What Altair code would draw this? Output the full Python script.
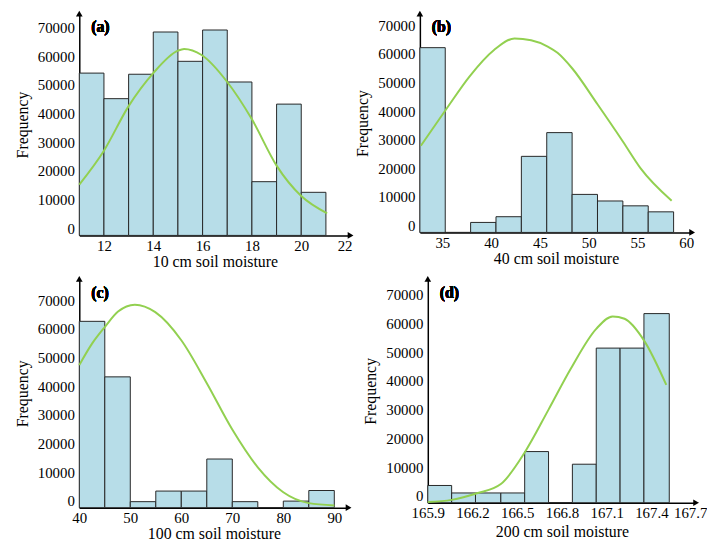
import altair as alt
import pandas as pd

# ---------------- data ----------------
# (a) 10 cm
a_start = [11, 12, 13, 14, 15, 16, 17, 18, 19, 20]
a_end = [12, 13, 14, 15, 16, 17, 18, 19, 20, 21]
a_count = [56500, 47600, 56100, 70800, 60600, 71500, 53400, 18700, 45700, 15000]
a_cx = [11, 12, 13, 14, 15, 15.25, 15.96, 17, 18, 19, 20, 21.05]
a_cy = [17700, 29500, 45000, 56500, 64300, 64900, 62800, 53400, 40400, 24300, 13700, 7700]

# (b) 40 cm
b_start = [32.7, 35.3, 37.9, 40.5, 43.1, 45.7, 48.3, 50.9, 53.5, 56.1]
b_end = [35.3, 37.9, 40.5, 43.1, 45.7, 48.3, 50.9, 53.5, 56.1, 58.7]
b_count = [64600, 0, 3500, 5500, 26600, 34900, 13300, 11000, 9300, 7200]
b_cx = [32.8, 35.5, 37.8, 40.3, 42.4, 44.1, 45.8, 46.8, 48.3, 50.9, 53.5, 55.3, 58.5]
b_cy = [30300, 43600, 54600, 63800, 67800, 67200, 65000, 62800, 57400, 44800, 31800, 22500, 11100]

# (c) 100 cm
c_start = [40, 45, 50, 55, 60, 65, 70, 75, 80, 85]
c_end = [45, 50, 55, 60, 65, 70, 75, 80, 85, 90]
c_count = [65100, 45700, 2100, 5800, 5800, 17000, 2100, 0, 2300, 6000]
c_cx = [40, 42.5, 45, 47.6, 50.9, 54.9, 60, 65, 70, 75, 80, 85, 90]
c_cy = [49800, 57300, 63100, 68500, 70900, 68300, 58500, 43500, 27300, 14100, 5400, 1600, 800]

# (d) 200 cm
d_start = [165.9, 166.06, 166.22, 166.39, 166.55, 166.71, 166.87, 167.03, 167.19, 167.35]
d_end = [166.06, 166.22, 166.39, 166.55, 166.71, 166.87, 167.03, 167.19, 167.35, 167.52]
d_count = [6000, 3400, 3400, 3400, 17800, 0, 13400, 53800, 53800, 65800]
d_cx = [165.9, 166.06, 166.23, 166.39, 166.55, 166.71, 166.86, 167.03, 167.14, 167.22, 167.35, 167.5]
d_cy = [230, 1000, 3300, 6500, 17500, 32400, 46700, 60500, 64800, 64000, 56500, 41000]

y_ticks = [0, 10000, 20000, 30000, 40000, 50000, 60000, 70000]

FONT = "Liberation Serif"
BAR_FILL = "#B7DDE8"
CURVE = "#92D050"


def panel(starts, ends, counts, cx, cy, xdom, xticks, xtitle, letter, width, height,
          ytop, fmt, shift_last, title_pad):
    bars_df = pd.DataFrame({"start": starts, "end": ends, "count": counts})
    curve_df = pd.DataFrame({"x": cx, "y": cy})
    # arrowheads sit at the ends of the axis domains
    arr_df = pd.DataFrame({"ax": [xdom[1], xdom[0]], "ay": [0, ytop],
                           "shape": ["triangle-right", "triangle-up"]})
    xs = alt.Scale(domain=xdom, nice=False, zero=False)
    ys = alt.Scale(domain=[0, ytop], nice=False)
    xkw = dict(values=xticks, title=xtitle, format=fmt, labelPadding=3,
               titlePadding=title_pad, labelOverlap=False, labelFlush=False)
    if shift_last:
        xkw["labelOffset"] = {
            "condition": {"test": f"datum.value >= {xticks[-1] - 1e-6}", "value": -6},
            "value": 0,
        }
    xaxis = alt.Axis(**xkw)
    yaxis = alt.Axis(values=y_ticks, title="Frequency", format="d", labelOffset=-7,
                     labelPadding=5, titlePadding=7, labelOverlap=False,
                     labelFlush=False)
    bars = alt.Chart(bars_df).mark_bar(
        fill=BAR_FILL, stroke="#262626", strokeWidth=1, opacity=1
    ).encode(
        x=alt.X("start:Q", scale=xs, axis=xaxis),
        x2="end:Q",
        y=alt.Y("count:Q", scale=ys, axis=yaxis),
        y2=alt.Y2Datum(0),
    )
    line = alt.Chart(curve_df).mark_line(
        color=CURVE, strokeWidth=2, interpolate="monotone"
    ).encode(
        x=alt.X("x:Q", scale=xs, axis=xaxis),
        y=alt.Y("y:Q", scale=ys, axis=yaxis),
    )
    arrows = alt.Chart(arr_df).mark_point(
        filled=True, color="black", size=45, opacity=1
    ).encode(
        x=alt.X("ax:Q", scale=xs, axis=xaxis),
        y=alt.Y("ay:Q", scale=ys, axis=yaxis),
        shape=alt.Shape("shape:N", scale=None, legend=None),
    )
    label = alt.Chart(bars_df).mark_text(
        text=letter, font=FONT, fontSize=16, fontWeight="bold", align="left",
        baseline="middle", color="black"
    ).encode(x=alt.value(12), y=alt.value(14))
    return alt.layer(bars, line, arrows, label).properties(
        width=width, height=height
    )


pa = panel(a_start, a_end, a_count, a_cx, a_cy, [11, 22], [12, 14, 16, 18, 20, 22],
           "10 cm soil moisture", "(a)", 274, 224, 77200, "d", True, 0)
pb = panel(b_start, b_end, b_count, b_cx, b_cy, [32.7, 60.6], [35, 40, 45, 50, 55, 60],
           "40 cm soil moisture", "(b)", 275, 221, 76500, "d", False, 0)
pc = panel(c_start, c_end, c_count, c_cx, c_cy, [40, 92.8], [40, 50, 60, 70, 80, 90],
           "100 cm soil moisture", "(c)", 272, 231, 79900, "d", False, 0)
pd_ = panel(d_start, d_end, d_count, d_cx, d_cy, [165.9, 167.7],
            [165.9, 166.2, 166.5, 166.8, 167.1, 167.4, 167.7],
            "200 cm soil moisture", "(d)", 271, 226, 77850, ".1f", True, 3)

row1 = alt.hconcat(pa, pb, spacing=1)
row2 = alt.hconcat(pc, pd_, spacing=11)

chart = alt.vconcat(row1, row2, spacing=7).properties(
    padding={"left": 6, "top": 0, "right": 0, "bottom": 0},
    background="white",
).configure_axis(
    domainColor="black", domainWidth=1.5, ticks=False, grid=False,
    labelFont=FONT, labelFontSize=15, labelColor="black",
    titleFont=FONT, titleFontSize=16, titleFontWeight="normal", titleColor="black",
).configure_view(stroke=None)

chart.save("out.html", embed_options={"renderer": "svg", "actions": False})
